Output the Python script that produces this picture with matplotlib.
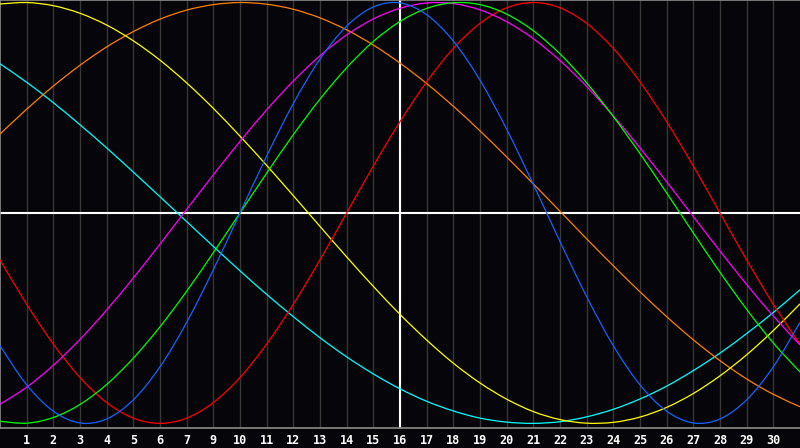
import matplotlib
matplotlib.use("Agg")
import matplotlib.pyplot as plt
from matplotlib.path import Path
from matplotlib.patches import PathPatch

# positions of the day columns (0 = left edge, 30 = right edge)
days = list(range(31))
day_labels = ["1", "2", "3", "4", "5", "6", "7", "9", "10", "11", "12", "13", "14", "15", "16",
              "17", "18", "19", "20", "21", "22", "23", "24", "25", "26", "27", "28", "29", "30"]
today_pos = 15

# cycle values (-1 .. 1) read at every day column
blue = [-0.631, -0.817, -0.942, -0.998, -0.979, -0.888, -0.731, -0.520, -0.270, 0.0,
        0.270, 0.520, 0.731, 0.888, 0.979, 0.998, 0.942, 0.817, 0.631, 0.398,
        0.136, -0.136, -0.398, -0.631, -0.817, -0.942, -0.998, -0.979, -0.888, -0.731, -0.520]
red = [-0.223, -0.434, -0.623, -0.782, -0.901, -0.975, -1.0, -0.975, -0.901, -0.782,
       -0.623, -0.434, -0.223, 0.0, 0.223, 0.434, 0.623, 0.782, 0.901, 0.975,
       1.0, 0.975, 0.901, 0.782, 0.623, 0.434, 0.223, 0.0, -0.223, -0.434, -0.623]
green = [-0.990, -0.999, -0.972, -0.910, -0.815, -0.690, -0.541, -0.372, -0.189, 0.0,
         0.189, 0.372, 0.541, 0.690, 0.815, 0.910, 0.972, 0.999, 0.990, 0.945,
         0.866, 0.756, 0.618, 0.458, 0.282, 0.095, -0.095, -0.282, -0.458, -0.618, -0.756]
magenta = [-0.909, -0.828, -0.724, -0.601, -0.461, -0.309, -0.148, 0.017, 0.181, 0.340,
           0.490, 0.627, 0.747, 0.846, 0.922, 0.973, 0.998, 0.995, 0.965, 0.909,
           0.828, 0.724, 0.601, 0.461, 0.309, 0.148, -0.017, -0.181, -0.340, -0.490, -0.627]
yellow = [0.993, 1.0, 0.985, 0.949, 0.893, 0.818, 0.726, 0.618, 0.497, 0.365,
          0.226, 0.082, -0.064, -0.209, -0.349, -0.482, -0.604, -0.714, -0.808, -0.885,
          -0.944, -0.982, -0.999, -0.995, -0.970, -0.924, -0.858, -0.774, -0.674, -0.559, -0.432]
orange = [0.375, 0.493, 0.603, 0.702, 0.789, 0.862, 0.921, 0.964, 0.990, 1.0,
          0.992, 0.968, 0.927, 0.870, 0.798, 0.712, 0.615, 0.507, 0.390, 0.266,
          0.138, 0.008, -0.123, -0.251, -0.375, -0.493, -0.603, -0.702, -0.789, -0.862, -0.921]
cyan = [0.709, 0.621, 0.524, 0.419, 0.309, 0.194, 0.077, -0.041, -0.159, -0.275,
        -0.387, -0.493, -0.593, -0.684, -0.765, -0.836, -0.895, -0.941, -0.975, -0.994,
        -1.0, -0.992, -0.969, -0.933, -0.884, -0.823, -0.749, -0.666, -0.573, -0.473, -0.365]


def smooth_path(xs, ys):
    # catmull-rom through the day values, drawn as bezier segments
    n = len(xs)
    verts = [(xs[0], ys[0])]
    codes = [Path.MOVETO]
    for i in range(n - 1):
        i0 = max(i - 1, 0)
        i3 = min(i + 2, n - 1)
        c1 = (xs[i] + (xs[i + 1] - xs[i0]) / 6, ys[i] + (ys[i + 1] - ys[i0]) / 6)
        c2 = (xs[i + 1] - (xs[i3] - xs[i]) / 6, ys[i + 1] - (ys[i3] - ys[i]) / 6)
        verts += [c1, c2, (xs[i + 1], ys[i + 1])]
        codes += [Path.CURVE4] * 3
    return Path(verts, codes)


bg = "#060509"
fig = plt.figure(figsize=(8, 4.48), dpi=100, facecolor=bg)
ax = fig.add_axes([0, 20 / 448, 1, 428 / 448])
ax.set_facecolor(bg)

# day grid
for d in days[1:-1]:
    ax.axvline(d, color="#363636", lw=1.0, zorder=1)
ax.axhline(0, color="white", lw=1.5, zorder=2)
ax.axvline(today_pos, color="white", lw=1.5, zorder=2)

series = [(cyan, "#00ffff"), (orange, "#ff8000"), (yellow, "#ffff00"),
          (red, "#ff0000"), (magenta, "#ff00ff"), (green, "#00ff00"), (blue, "#1464ff")]
for vals, col in series:
    ax.add_patch(PathPatch(smooth_path(days, vals), fill=False, edgecolor=col,
                           lw=0.9, zorder=3))

ax.set_xlim(0, 30)
ax.set_ylim(-1.022, 1.012)

for s in ["left", "top", "bottom"]:
    ax.spines[s].set_color("#8c8c8c")
    ax.spines[s].set_linewidth(1.2)
ax.spines["right"].set_visible(False)

ax.set_yticks([])
ax.set_xticks(days[1:-1])
ax.set_xticklabels(day_labels, color="white", fontsize=8.5, fontweight="bold",
                   fontfamily="DejaVu Sans Mono")
ax.tick_params(axis="x", length=0, pad=4)

fig.savefig("out.png", dpi=100, facecolor=bg)
